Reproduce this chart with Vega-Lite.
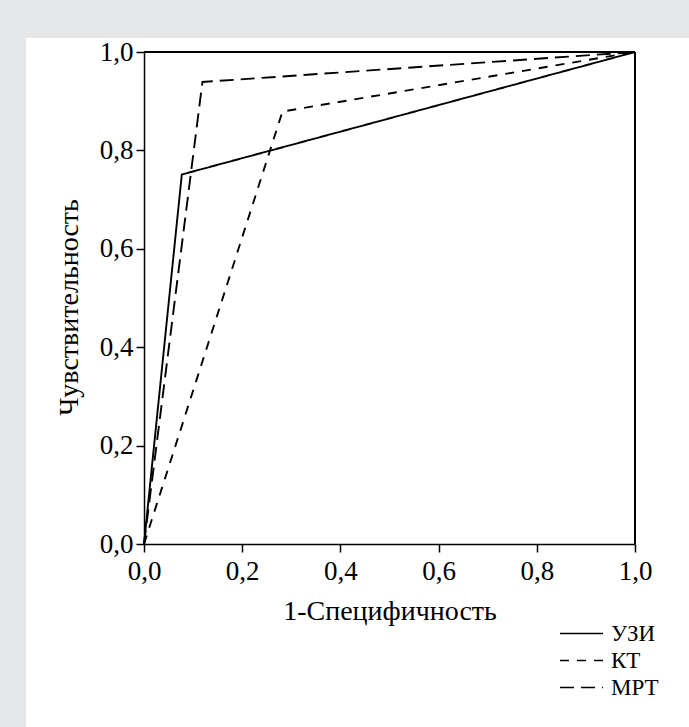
{
  "$schema": "https://vega.github.io/schema/vega-lite/v6.json",
  "autosize": {"type": "none"},
  "width": 491,
  "height": 492,
  "padding": {"left": 144, "top": 52, "right": 54, "bottom": 183},
  "background": "#e6e7e8",
  "config": {
    "view": {"stroke": null},
    "font": "Times New Roman, Liberation Serif, serif",
    "axis": {
      "grid": false,
      "domainColor": "black",
      "domainWidth": 1.5,
      "tickColor": "black",
      "tickWidth": 1.5,
      "tickSize": 8,
      "labelFont": "Times New Roman, Liberation Serif, serif",
      "labelFontSize": 27,
      "labelColor": "black",
      "labelPadding": 3,
      "labelFlush": false,
      "titleFont": "Times New Roman, Liberation Serif, serif",
      "titleFontSize": 28,
      "titleFontWeight": "normal",
      "titleColor": "black"
    },
    "legend": {
      "labelFont": "Times New Roman, Liberation Serif, serif",
      "labelFontSize": 23,
      "labelColor": "black"
    }
  },
  "data": {
    "values": [
      {"method": "УЗИ", "fpr": 0, "tpr": 0},
      {"method": "УЗИ", "fpr": 0.077, "tpr": 0.751},
      {"method": "УЗИ", "fpr": 1, "tpr": 1},
      {"method": "КТ", "fpr": 0, "tpr": 0},
      {"method": "КТ", "fpr": 0.282, "tpr": 0.879},
      {"method": "КТ", "fpr": 1, "tpr": 1},
      {"method": "МРТ", "fpr": 0, "tpr": 0},
      {"method": "МРТ", "fpr": 0.119, "tpr": 0.939},
      {"method": "МРТ", "fpr": 1, "tpr": 1}
    ]
  },
  "layer": [
    {
      "mark": {"type": "rect", "color": "white", "clip": false},
      "encoding": {
        "x": {"datum": -0.24, "type": "quantitative"},
        "x2": {"datum": 1.11},
        "y": {"datum": -0.4, "type": "quantitative"},
        "y2": {"datum": 1.0285}
      }
    },
    {
      "mark": {"type": "rule", "color": "black", "strokeWidth": 1.5},
      "encoding": {
        "x": {"datum": 0, "type": "quantitative"},
        "x2": {"datum": 1},
        "y": {"datum": 1, "type": "quantitative"}
      }
    },
    {
      "mark": {"type": "rule", "color": "black", "strokeWidth": 1.5},
      "encoding": {
        "x": {"datum": 1, "type": "quantitative"},
        "y": {"datum": 0, "type": "quantitative"},
        "y2": {"datum": 1}
      }
    },
    {
      "mark": {"type": "line", "color": "black", "strokeWidth": 1.9},
      "encoding": {
        "x": {
          "field": "fpr",
          "type": "quantitative",
          "scale": {"domain": [0, 1], "nice": false},
          "axis": {
            "zindex": 2,
            "values": [0, 0.2, 0.4, 0.6, 0.8, 1],
            "labelExpr": "replace(format(datum.value, '.1f'), '.', ',')",
            "title": "1-Специфичность",
            "labelPadding": 6,
            "titlePadding": 13
          }
        },
        "y": {
          "field": "tpr",
          "type": "quantitative",
          "scale": {"domain": [0, 1], "nice": false},
          "axis": {
            "zindex": 2,
            "values": [0, 0.2, 0.4, 0.6, 0.8, 1],
            "labelExpr": "replace(format(datum.value, '.1f'), '.', ',')",
            "title": "Чувствительность",
            "titlePadding": 16,
            "titleY": 255
          }
        },
        "strokeDash": {
          "field": "method",
          "type": "nominal",
          "scale": {"domain": ["УЗИ", "КТ", "МРТ"], "range": [[1, 0], [9, 8], [14, 7]]},
          "legend": {
            "title": null,
            "orient": "none",
            "legendX": 426,
            "legendY": 570,
            "symbolType": "M-2,0H2",
            "symbolSize": 462,
            "symbolStrokeWidth": 1.5,
            "symbolStrokeColor": "black",
            "labelOffset": 18,
            "rowPadding": 3
          }
        }
      }
    }
  ]
}
